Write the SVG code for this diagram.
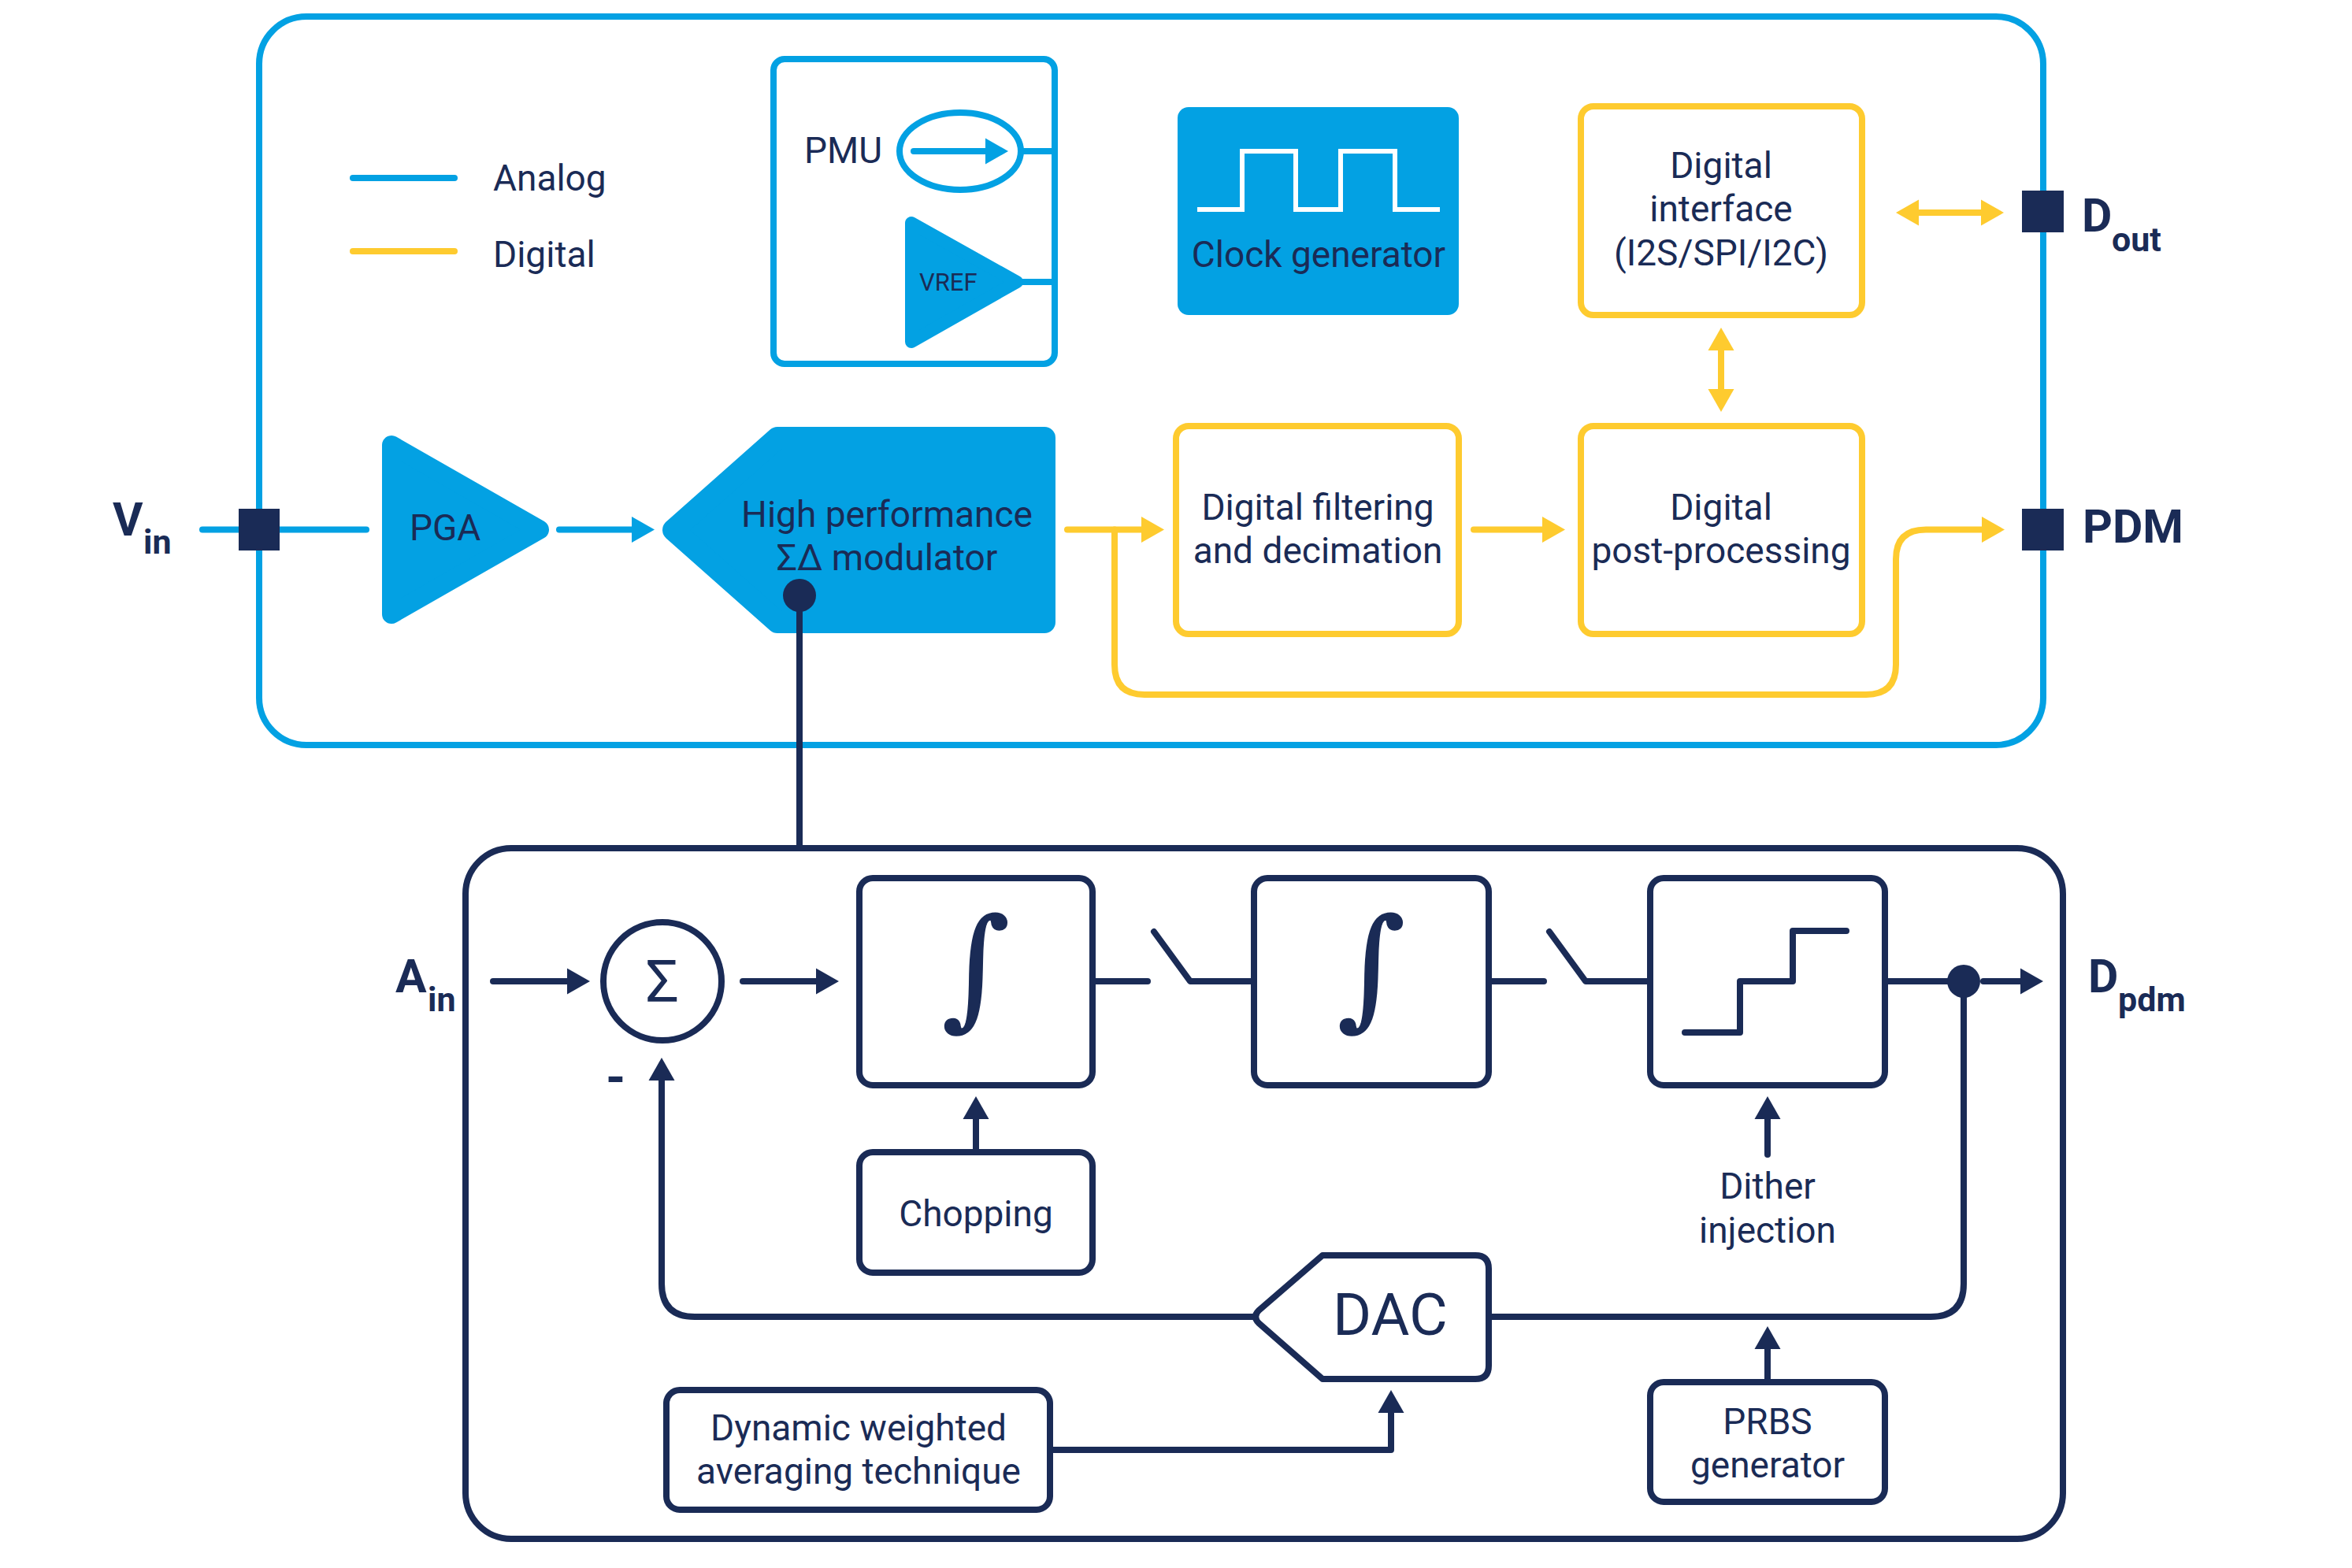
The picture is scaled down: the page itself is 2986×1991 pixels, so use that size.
<svg xmlns="http://www.w3.org/2000/svg" width="2986" height="1991" viewBox="0 0 2986 1991">
<style>
text{font-family:Roboto,"Noto Sans",sans-serif;font-size:46px;fill:#1a2b56}
.m{text-anchor:middle}
.b{font-weight:700;font-size:59px}
.s{font-weight:700;font-size:43px}
.int{font-family:"DejaVu Serif","Liberation Serif",serif;font-style:italic;font-size:166px;stroke:#1a2b56;stroke-width:1.500}
.bl,.bb,.yb,.nb,.bc,.yc,.nc{fill:none;stroke-width:8;stroke-linejoin:round}
.bl,.bb,.bc{stroke:#03a1e3}
.yb,.yc{stroke:#fecb2f}
.nb,.nc{stroke:#1a2b56}
.bc,.yc,.nc{stroke-linecap:round}
.sq{fill:#1a2b56}
.fb{fill:#03a1e3;stroke:#03a1e3;stroke-linejoin:round}
</style>
<defs>
<marker id="ab" markerUnits="userSpaceOnUse" markerWidth="32" markerHeight="36" refX="1" refY="18" orient="auto-start-reverse"><path d="M0,1.500L29,18L0,34.500z" fill="#03a1e3"/></marker>
<marker id="ay" markerUnits="userSpaceOnUse" markerWidth="32" markerHeight="36" refX="1" refY="18" orient="auto-start-reverse"><path d="M0,1.500L29,18L0,34.500z" fill="#fecb2f"/></marker>
<marker id="an" markerUnits="userSpaceOnUse" markerWidth="32" markerHeight="36" refX="1" refY="18" orient="auto-start-reverse"><path d="M0,1.500L29,18L0,34.500z" fill="#1a2b56"/></marker>
</defs>

<rect id="analog-block" class="bb" x="329" y="21" width="2265" height="925" rx="60"/>
<rect id="modulator-block" class="nb" x="591" y="1077" width="2028" height="877" rx="58"/>

<g id="sigma-delta-modulator">
<polygon class="fb" stroke-width="28" points="987,556 1326,556 1326,790 987,790 855,673"/>
<text class="m" x="1126" y="669">High performance</text>
<text class="m" x="1126" y="724">ΣΔ modulator</text>
<circle class="sq" cx="1015" cy="756" r="21"/>
</g>

<g id="connectors">
<path class="bc" d="M257,672.500H465"/>
<path class="bc" d="M710,672.500H803" marker-end="url(#ab)"/>
<path class="nc" style="stroke-linecap:butt" d="M1015,756V1077"/>
<path class="yc" d="M1355,672.500H1450" marker-end="url(#ay)"/>
<path class="yc" d="M1415,672.500V844Q1415,882 1453,882H2369Q2407,882 2407,844V710Q2407,672.500 2445,672.500H2517" marker-end="url(#ay)"/>
<path class="yc" d="M1871,672.500H1959" marker-end="url(#ay)"/>
<path class="yc" d="M2185,444V495" marker-start="url(#ay)" marker-end="url(#ay)"/>
<path class="yc" d="M2435,270H2516" marker-start="url(#ay)" marker-end="url(#ay)"/>
<path class="nc" d="M626,1246H721" marker-end="url(#an)"/>
<path class="nc" d="M943,1246H1037" marker-end="url(#an)"/>
<path class="nc" d="M1387,1246H1457"/>
<path class="nc" d="M1465,1183L1511,1246H1592"/>
<path class="nc" d="M1890,1246H1960"/>
<path class="nc" d="M1967,1183L2013,1246H2095"/>
<path class="nc" d="M2393,1246H2493"/>
<path class="nc" d="M2518,1246H2566" marker-end="url(#an)"/>
<path class="nc" d="M2493,1246V1630Q2493,1672 2451,1672H1890"/>
<path class="nc" d="M1591,1672H882Q840,1672 840,1630V1371" marker-end="url(#an)"/>
<path class="nc" d="M1239,1463V1420" marker-end="url(#an)"/>
<path class="nc" d="M2244,1466V1420" marker-end="url(#an)"/>
<path class="nc" d="M2244,1754V1712" marker-end="url(#an)"/>
<path class="nc" d="M1333,1841H1766V1793" marker-end="url(#an)"/>
</g>

<g id="legend">
<path class="bc" d="M448,226H577"/>
<path class="yc" d="M448,319H577"/>
<text x="626" y="242">Analog</text>
<text x="626" y="339">Digital</text>
</g>

<g id="pmu">
<rect class="bb" x="982" y="75" width="357" height="387" rx="14"/>
<text x="1021" y="207">PMU</text>
<ellipse class="bb" cx="1219" cy="192" rx="77" ry="49"/>
<path class="bc" d="M1160,192H1252" marker-end="url(#ab)"/>
<path class="bc" style="stroke-linecap:butt" d="M1295,192H1339M1295,358H1339"/>
<polygon class="fb" stroke-width="16" points="1157,283 1157,434 1291,358"/>
<text x="1167" y="369" style="font-size:31px">VREF</text>
</g>

<g id="clock-generator">
<rect x="1495" y="136" width="357" height="264" rx="14" fill="#03a1e3"/>
<path d="M1520,266H1577V192H1645V266H1702V192H1771V266H1828" fill="none" stroke="#fff" stroke-width="6"/>
<text class="m" x="1674" y="339">Clock generator</text>
</g>

<g id="digital-interface">
<rect class="yb" x="2007" y="135" width="357" height="265" rx="16" fill="#fff"/>
<text class="m" x="2185" y="226">Digital</text>
<text class="m" x="2185" y="281">interface</text>
<text class="m" x="2185" y="337">(I2S/SPI/I2C)</text>
</g>

<g id="digital-filtering">
<rect class="yb" x="1493" y="541" width="359" height="264" rx="16"/>
<text class="m" x="1673" y="660">Digital filtering</text>
<text class="m" x="1673" y="715">and decimation</text>
</g>

<g id="digital-post-processing">
<rect class="yb" x="2007" y="541" width="357" height="264" rx="16"/>
<text class="m" x="2185" y="660">Digital</text>
<text class="m" x="2185" y="715">post-processing</text>
</g>

<g id="port-vin">
<rect class="sq" x="303" y="646" width="52" height="53"/>
<text class="b" x="143" y="680">V</text>
<text class="s" x="182" y="703">in</text>
</g>
<g id="port-dout">
<rect class="sq" x="2567" y="242" width="53" height="53"/>
<text class="b" x="2643" y="294">D</text>
<text class="s" x="2681" y="319">out</text>
</g>
<g id="port-pdm">
<rect class="sq" x="2567" y="646" width="53" height="53"/>
<text class="b" x="2644" y="689">PDM</text>
</g>

<g id="pga">
<polygon class="fb" stroke-width="24" points="497,565 497,780 685,672.500"/>
<text x="520" y="686">PGA</text>
</g>

<g id="port-ain">
<text class="b" x="502" y="1260">A</text>
<text class="s" x="543" y="1284">in</text>
</g>

<g id="summing-junction">
<circle class="nb" cx="841" cy="1246" r="75"/>
<text class="m" x="841" y="1272" style="font-size:74px">Σ</text>
<text x="769" y="1390" style="font-size:64px;font-weight:700">-</text>
</g>

<g id="integrator-1">
<rect class="nb" x="1091" y="1115" width="296" height="263" rx="17"/>
<text class="int m" x="1239" y="1285">∫</text>
</g>

<g id="integrator-2">
<rect class="nb" x="1592" y="1115" width="298" height="263" rx="17"/>
<text class="int m" x="1741" y="1285">∫</text>
</g>

<g id="quantizer">
<rect class="nb" x="2095" y="1115" width="298" height="263" rx="17"/>
<path class="nc" d="M2139,1311H2209V1246H2276V1182H2344"/>
</g>

<circle id="output-node" class="sq" cx="2493" cy="1246" r="21"/>

<g id="port-dpdm">
<text class="b" x="2651" y="1260">D</text>
<text class="s" x="2689" y="1284">pdm</text>
</g>

<g id="chopping">
<rect class="nb" x="1091" y="1463" width="296" height="153" rx="17"/>
<text class="m" x="1239" y="1557">Chopping</text>
</g>

<g id="dither-injection">
<text class="m" x="2244" y="1522">Dither</text>
<text class="m" x="2244" y="1578">injection</text>
</g>

<g id="dac">
<path class="nb" style="fill:#fff" d="M1679,1594H1873Q1890,1594 1890,1611V1734Q1890,1751 1873,1751H1679L1598,1680Q1590,1672 1598,1664Z"/>
<text x="1692" y="1695" style="font-size:75px">DAC</text>
</g>

<g id="dynamic-weighted-averaging">
<rect class="nb" x="846" y="1765" width="487" height="152" rx="17"/>
<text class="m" x="1090" y="1829">Dynamic weighted</text>
<text class="m" x="1090" y="1884">averaging technique</text>
</g>

<g id="prbs-generator">
<rect class="nb" x="2095" y="1755" width="298" height="152" rx="17"/>
<text class="m" x="2244" y="1821">PRBS</text>
<text class="m" x="2244" y="1876">generator</text>
</g>
</svg>
